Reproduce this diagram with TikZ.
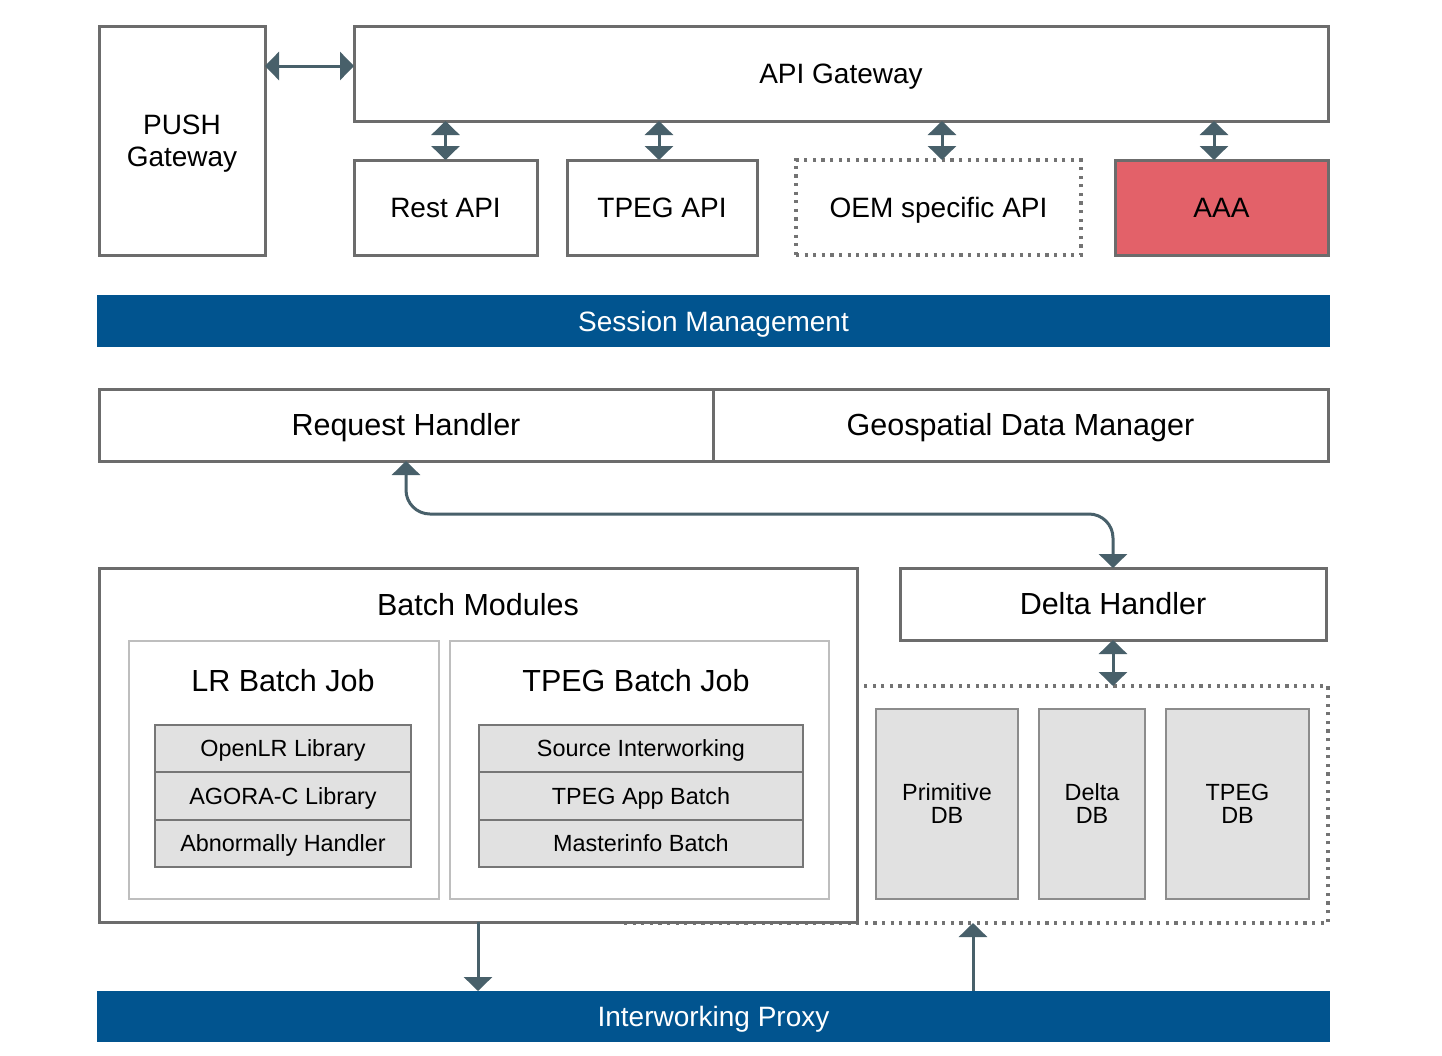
\documentclass[tikz,border=0pt]{standalone}
\usepackage{fontspec}
\setmainfont{Liberation Sans}
\usetikzlibrary{arrows.meta}
\definecolor{boxc}{RGB}{108,108,108}
\definecolor{arrc}{RGB}{72,96,106}
\definecolor{barc}{RGB}{1,84,143}
\definecolor{aaac}{RGB}{227,97,105}
\definecolor{lightc}{RGB}{190,190,190}
\definecolor{stackf}{RGB}{225,225,225}
\definecolor{stackc}{RGB}{118,118,118}
\definecolor{dbdraw}{RGB}{140,140,140}
\definecolor{dotc}{RGB}{115,115,115}
\newcommand\mkbox[7]{\node[#2,minimum width={(#5-#3)*0.5pt},minimum height={(#6-#4)*0.5pt}] (#1) at ({(#3+#5)/2},{(#4+#6)/2}) {#7};}
\begin{document}
\begin{tikzpicture}[x=0.5pt,y=-0.5pt,
  base/.style={inner sep=0pt,outer sep=0pt,text depth=0pt,align=center},
  fa/.style={font=\fontsize{14}{16}\selectfont},
  fb/.style={font=\fontsize{15.25}{18}\selectfont},
  fc/.style={font=\fontsize{11.7}{11.5}\selectfont},
  fa1/.style={fa,text height=10pt},
  fb1/.style={fb,text height=10.9pt},
  fc1/.style={fc,text height=8.4pt},
  mainbox/.style={base,draw=boxc,line width=1.5pt,fill=white},
  dotbox/.style={base,draw=dotc,line width=1.6pt,dash pattern=on 1.6pt off 2.7pt},
  bar/.style={base,fill=barc,text=white,fa1},
  inbox/.style={base,draw=lightc,line width=1pt,fill=white},
  stack/.style={base,draw=stackc,line width=1pt,fill=stackf,fc1},
  dbbox/.style={base,draw=dbdraw,line width=1pt,fill=stackf,fc},
  conn/.style={draw=arrc,line width=1.5pt},
  conn1/.style={conn,-{Triangle[width=14pt,length=7pt]}},
  conn2/.style={conn,{Triangle[width=14pt,length=7pt]}-{Triangle[width=14pt,length=7pt]}},
]
\fill[white] (0,0) rectangle (1442,1056);
\useasboundingbox (0,0) rectangle (1442,1056);

% top layer
\mkbox{push}{mainbox,fa}{99}{26}{265}{255}{PUSH\\Gateway}
\mkbox{api}{mainbox,fa1}{354}{26}{1328}{121}{API Gateway}
\mkbox{rest}{mainbox,fa1}{354}{160}{537}{255}{Rest API}
\mkbox{tpegapi}{mainbox,fa1}{567}{160}{757}{255}{TPEG API}
\mkbox{oem}{dotbox,fa1}{796}{160}{1081}{255}{OEM specific API}
\mkbox{aaa}{mainbox,fa1,fill=aaac}{1115}{160}{1328}{255}{AAA}

\mkbox{sess}{bar}{97}{295}{1330}{347}{Session Management}

\mkbox{req}{mainbox,fb1}{99}{389}{713}{461}{Request Handler}
\mkbox{geo}{mainbox,fb1}{713}{389}{1328}{461}{Geospatial Data Manager}

% DB container and batch modules
\mkbox{dbcont}{dotbox}{624}{686}{1328}{923}{}
\mkbox{batch}{mainbox}{99}{568}{857}{922}{}
\node[base,fb1] (batcht) at (478,605) {Batch Modules};

\mkbox{lr}{inbox}{129}{641}{439}{899}{}
\node[base,fb1] (lrt) at (283,681) {LR Batch Job};
\mkbox{lr1}{stack}{155}{725}{411}{772}{OpenLR Library}
\mkbox{lr2}{stack}{155}{772}{411}{820}{AGORA-C Library}
\mkbox{lr3}{stack}{155}{820}{411}{867}{Abnormally Handler}

\mkbox{tj}{inbox}{450}{641}{829}{899}{}
\node[base,fb1] (tjt) at (636,681) {TPEG Batch Job};
\mkbox{tj1}{stack}{479}{725}{803}{772}{Source Interworking}
\mkbox{tj2}{stack}{479}{772}{803}{820}{TPEG App Batch}
\mkbox{tj3}{stack}{479}{820}{803}{867}{Masterinfo Batch}

\mkbox{delta}{mainbox,fb1}{900}{568}{1326}{640}{Delta Handler}

\mkbox{pdb}{dbbox}{876}{709}{1018}{899}{Primitive\\DB}
\mkbox{ddb}{dbbox}{1039}{709}{1145}{899}{Delta\\DB}
\mkbox{tdb}{dbbox}{1166}{709}{1309}{899}{TPEG\\DB}

\mkbox{iw}{bar}{97}{991}{1330}{1042}{Interworking Proxy}

% connectors
\draw[conn2] ([yshift=3.75pt]api.west) -- ([yshift=3.75pt]api.west -| push.east);
\draw[conn2] (rest.north) -- (rest.north |- api.south);
\draw[conn2] ([xshift=-1.5pt]tpegapi.north) -- ([xshift=-1.5pt]tpegapi.north |- api.south);
\draw[conn2] ([xshift=1.75pt]oem.north) -- ([xshift=1.75pt]oem.north |- api.south);
\draw[conn2] ([xshift=-3.75pt]aaa.north) -- ([xshift=-3.75pt]aaa.north |- api.south);

\coordinate (midrow) at (0,514);
\draw[conn2,rounded corners=12pt] (req.south) -- (req.south |- midrow) -- (delta.north |- midrow) -- (delta.north);

\draw[conn2] (delta.south) -- (delta.south |- dbcont.north);
\draw[conn1] (batch.south) -- (batch.south |- iw.north);
\draw[conn1] ([xshift=-1.5pt]dbcont.south |- iw.north) -- ([xshift=-1.5pt]dbcont.south);
\end{tikzpicture}
\end{document}
